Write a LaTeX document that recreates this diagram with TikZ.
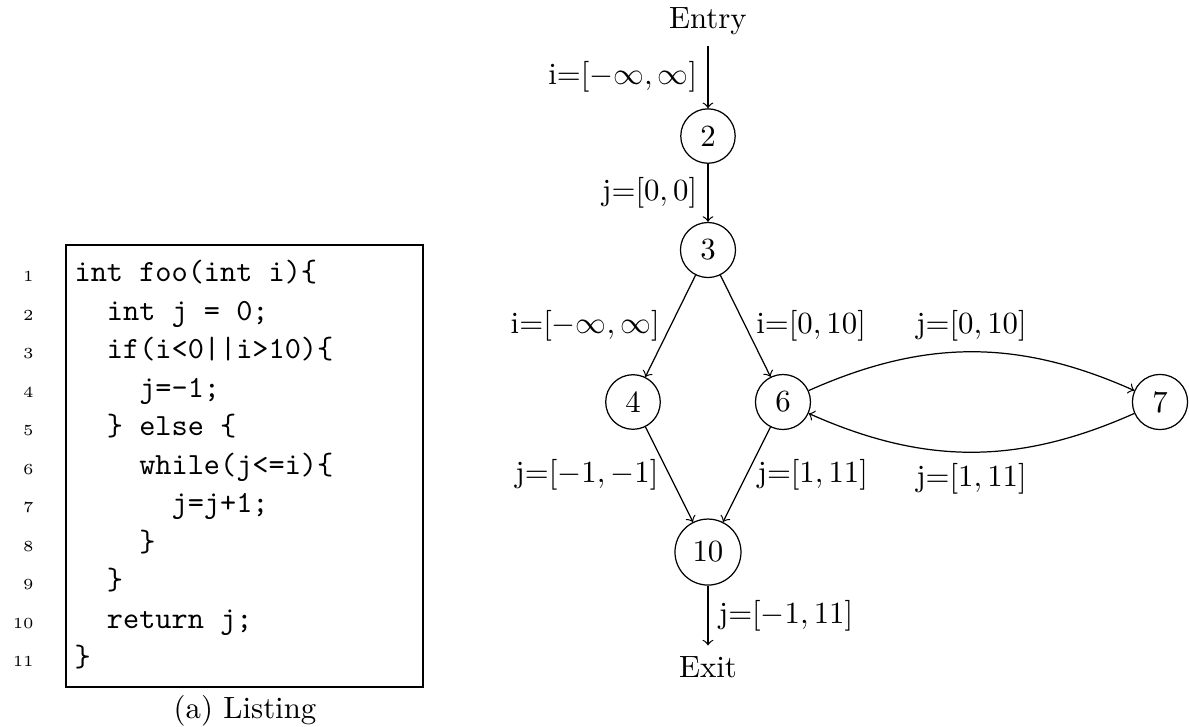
\documentclass[tikz,border=0pt]{standalone}
\usepackage{amsmath, amssymb}
\usetikzlibrary{arrows.meta, positioning}

\begin{document}
\begin{tikzpicture}[>=to]
  \tikzset{
    blk/.style={circle, draw},
    codeline/.style={anchor=base west, inner sep=0pt, font=\ttfamily},
    lineno/.style={anchor=base east, inner sep=0pt, font=\tiny},
  }
  \useasboundingbox (0, 0) rectangle (13.573, 8.288);
  % --- listing -------------------------------------------------------
  \draw (0.753, 0.445) rectangle (4.829, 5.491);
  \foreach \k in {1, ..., 11}
    \node[lineno] (no\k) at (0.392, {5.072 - (\k-1)*0.4395}) {\k};
  \node[codeline] (c1)  at (0.845, 5.072) {int foo(int i)\{};
  \node[codeline] (c2)  at (1.214, 4.633) {int j = 0;};
  \node[codeline] (c3)  at (1.214, 4.193) {if(i<0||i>10)\{};
  \node[codeline] (c4)  at (1.583, 3.754) {j=-1;};
  \node[codeline] (c5)  at (1.214, 3.314) {\} else \{};
  \node[codeline] (c6)  at (1.583, 2.875) {while(j<=i)\{};
  \node[codeline] (c7)  at (1.952, 2.435) {j=j+1;};
  \node[codeline] (c8)  at (1.583, 1.996) {\}};
  \node[codeline] (c9)  at (1.214, 1.556) {\}};
  \node[codeline] (c10) at (1.214, 1.117) {return j;};
  \node[codeline] (c11) at (0.845, 0.677) {\}};
  \node[anchor=base] (cap) at (2.797, 0.085) {(a) Listing};
  % --- flow graph ----------------------------------------------------
  \node (entry)    at (8.082, 8.042) {Entry};
  \node[blk] (n2)  at (8.082, 6.735) {2};
  \node[blk] (n3)  at (8.082, 5.434) {3};
  \node[blk] (n4)  at (7.226, 3.699) {4};
  \node[blk] (n6)  at (8.938, 3.699) {6};
  \node[blk] (n7)  at (13.242, 3.699) {7};
  \node[blk] (n10) at (8.082, 1.986) {10};
  \node (exit)     at (8.082, 0.674) {Exit};
  % --- edges with intervals ------------------------------------------
  \draw[->] (entry) -- (n2) node[midway, left] {i=$[-\infty, \infty]$};
  \draw[->] (n2) -- (n3) node[midway, left] {j=$[0, 0]$};
  \draw[->] (n3) -- (n4) node[midway, left] {i=$[-\infty, \infty]$};
  \draw[->] (n3) -- (n6) node[midway, right] {i=$[0, 10]$};
  \draw[->] (n4) -- (n10) node[midway, left] {j=$[-1, -1]$};
  \draw[->] (n6) -- (n10) node[midway, right] {j=$[1, 11]$};
  \draw[->] (n6) to[bend left=24] node[midway, above] {j=$[0, 10]$} (n7);
  \draw[->] (n7) to[bend left=24] node[midway, below] {j=$[1, 11]$} (n6);
  \draw[->] (n10) -- (exit) node[midway, right] {j=$[-1, 11]$};
\end{tikzpicture}
\end{document}
